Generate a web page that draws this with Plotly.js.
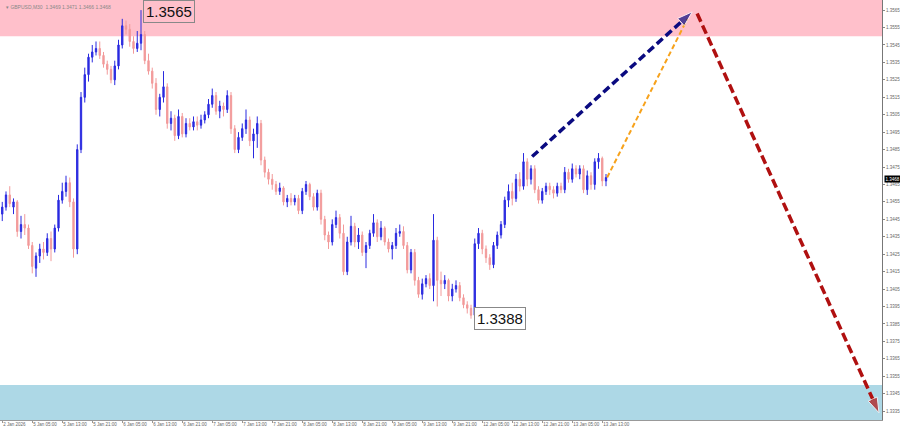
<!DOCTYPE html>
<html>
<head>
<meta charset="utf-8">
<script src="https://cdn.plot.ly/plotly-3.0.1.min.js"></script>
<style>html,body{margin:0;padding:0;background:#fff;}#chart{width:900px;height:431px;}</style>
</head>
<body>
<div id="chart"></div>
<script>
// Hourly approximation of GBPUSD bars (bar index = hour)
const openP = [1.3448,1.3452,1.3459,1.3452,1.3455,1.3438,1.3442,1.3440,1.3430,1.3417,1.3424,1.3428,1.3426,1.3434,1.3428,1.3440,1.3456,1.3461,1.3466,1.3455,
1.3428,1.3485,1.3515,1.3528,1.3538,1.3541,1.3543,1.3539,1.3534,1.3531,1.3525,1.3533,1.3545,1.3556,1.3554,1.3547,1.3543,1.3546,1.3551,1.3536,
1.3530,1.3523,1.3508,1.3515,1.3521,1.3500,1.3503,1.3493,1.3504,1.3494,1.3500,1.3498,1.3501,1.3499,1.3502,1.3505,1.3511,1.3516,1.3507,1.3510,
1.3508,1.3516,1.3497,1.3485,1.3492,1.3497,1.3502,1.3490,1.3494,1.3500,1.3479,1.3472,1.3468,1.3465,1.3461,1.3463,1.3455,1.3457,1.3455,1.3457,
1.3450,1.3461,1.3465,1.3458,1.3452,1.3460,1.3445,1.3436,1.3432,1.3442,1.3446,1.3437,1.3415,1.3432,1.3441,1.3432,1.3436,1.3426,1.3430,1.3437,
1.3443,1.3435,1.3440,1.3432,1.3428,1.3430,1.3437,1.3438,1.3430,1.3416,1.3426,1.3410,1.3402,1.3408,1.3411,1.3407,1.3433,1.3410,1.3408,1.3410,
1.3401,1.3405,1.3407,1.3400,1.3396,1.3394,1.3390,1.3431,1.3437,1.3428,1.3423,1.3419,1.3430,1.3436,1.3442,1.3456,1.3461,1.3457,1.3468,1.3464,
1.3478,1.3468,1.3474,1.3462,1.3456,1.3461,1.3464,1.3462,1.3460,1.3464,1.3462,1.3472,1.3468,1.3474,1.3471,1.3474,1.3462,1.3470,1.3465,1.3478,
1.3480,1.3467];
const highP = [1.3455,1.3461,1.3464,1.3457,1.3456,1.3447,1.3448,1.3442,1.3432,1.3426,1.3431,1.3432,1.3437,1.3438,1.3442,1.3459,1.3466,1.3470,1.3469,1.3457,
1.3488,1.3518,1.3532,1.3540,1.3545,1.3547,1.3547,1.3541,1.3536,1.3533,1.3536,1.3548,1.3560,1.3559,1.3557,1.3550,1.3553,1.3565,1.3553,1.3540,
1.3532,1.3526,1.3517,1.3530,1.3523,1.3507,1.3505,1.3508,1.3506,1.3503,1.3503,1.3504,1.3504,1.3505,1.3507,1.3514,1.3520,1.3518,1.3513,1.3512,
1.3519,1.3518,1.3499,1.3495,1.3500,1.3508,1.3504,1.3497,1.3504,1.3502,1.3481,1.3474,1.3471,1.3467,1.3466,1.3464,1.3459,1.3460,1.3459,1.3459,
1.3463,1.3467,1.3466,1.3460,1.3462,1.3462,1.3447,1.3438,1.3445,1.3450,1.3448,1.3442,1.3435,1.3447,1.3443,1.3440,1.3438,1.3432,1.3439,1.3448,
1.3445,1.3444,1.3441,1.3434,1.3432,1.3440,1.3442,1.3441,1.3432,1.3428,1.3428,1.3412,1.3411,1.3413,1.3414,1.3448,1.3435,1.3415,1.3413,1.3411,
1.3408,1.3410,1.3409,1.3402,1.3398,1.3396,1.3434,1.3440,1.3439,1.3430,1.3425,1.3432,1.3438,1.3444,1.3458,1.3465,1.3466,1.3471,1.3472,1.3483,
1.3480,1.3476,1.3476,1.3464,1.3463,1.3466,1.3466,1.3464,1.3466,1.3466,1.3475,1.3474,1.3477,1.3476,1.3476,1.3476,1.3473,1.3472,1.3480,1.3483,
1.3481,1.3471];
const lowP = [1.3444,1.3450,1.3452,1.3448,1.3435,1.3434,1.3436,1.3428,1.3414,1.3412,1.3420,1.3422,1.3424,1.3421,1.3426,1.3438,1.3454,1.3458,1.3452,1.3423,
1.3425,1.3483,1.3512,1.3524,1.3535,1.3539,1.3537,1.3532,1.3528,1.3523,1.3522,1.3531,1.3543,1.3551,1.3544,1.3540,1.3541,1.3542,1.3534,1.3528,
1.3520,1.3505,1.3504,1.3512,1.3497,1.3496,1.3490,1.3491,1.3492,1.3492,1.3496,1.3496,1.3496,1.3497,1.3500,1.3503,1.3509,1.3505,1.3503,1.3504,
1.3506,1.3494,1.3483,1.3483,1.3490,1.3494,1.3487,1.3480,1.3486,1.3476,1.3469,1.3465,1.3462,1.3459,1.3459,1.3453,1.3452,1.3453,1.3453,1.3448,
1.3448,1.3459,1.3456,1.3450,1.3450,1.3442,1.3433,1.3428,1.3430,1.3440,1.3434,1.3413,1.3413,1.3430,1.3429,1.3428,1.3424,1.3417,1.3428,1.3435,
1.3432,1.3433,1.3430,1.3426,1.3422,1.3428,1.3435,1.3428,1.3414,1.3414,1.3407,1.3400,1.3399,1.3406,1.3405,1.3398,1.3395,1.3401,1.3405,1.3398,
1.3398,1.3403,1.3398,1.3394,1.3391,1.3388,1.3388,1.3428,1.3425,1.3420,1.3416,1.3417,1.3428,1.3434,1.3440,1.3452,1.3453,1.3455,1.3461,1.3462,
1.3464,1.3465,1.3460,1.3454,1.3454,1.3459,1.3459,1.3457,1.3458,1.3460,1.3460,1.3466,1.3466,1.3469,1.3468,1.3460,1.3459,1.3462,1.3462,1.3474,
1.3464,1.3464];
const closeP = [1.3452,1.3459,1.3454,1.3455,1.3438,1.3442,1.3440,1.3430,1.3418,1.3424,1.3428,1.3426,1.3434,1.3428,1.3440,1.3456,1.3461,1.3466,1.3455,1.3428,
1.3485,1.3515,1.3528,1.3538,1.3541,1.3543,1.3539,1.3534,1.3531,1.3525,1.3533,1.3545,1.3556,1.3554,1.3547,1.3543,1.3546,1.3551,1.3536,1.3530,
1.3523,1.3508,1.3515,1.3521,1.3500,1.3503,1.3493,1.3504,1.3494,1.3500,1.3498,1.3501,1.3499,1.3502,1.3505,1.3511,1.3516,1.3507,1.3510,1.3508,
1.3516,1.3497,1.3485,1.3492,1.3497,1.3502,1.3490,1.3494,1.3500,1.3479,1.3472,1.3468,1.3465,1.3461,1.3463,1.3455,1.3457,1.3455,1.3457,1.3450,
1.3461,1.3465,1.3458,1.3452,1.3460,1.3445,1.3436,1.3432,1.3442,1.3446,1.3437,1.3415,1.3432,1.3441,1.3432,1.3436,1.3426,1.3430,1.3437,1.3443,
1.3435,1.3440,1.3432,1.3428,1.3430,1.3437,1.3438,1.3430,1.3416,1.3426,1.3410,1.3402,1.3408,1.3411,1.3407,1.3433,1.3410,1.3408,1.3410,1.3401,
1.3405,1.3407,1.3400,1.3396,1.3394,1.3390,1.3431,1.3437,1.3428,1.3423,1.3419,1.3430,1.3436,1.3442,1.3456,1.3461,1.3457,1.3468,1.3464,1.3478,
1.3468,1.3474,1.3462,1.3456,1.3461,1.3464,1.3462,1.3460,1.3464,1.3462,1.3472,1.3468,1.3474,1.3471,1.3474,1.3462,1.3470,1.3465,1.3478,1.3480,
1.3467,1.3469];
const barIndex = openP.map((_, i) => i);

const timeTickPos = [0,8,16,24,32,40,48,56,64,72,80,88,96,104,112,120,128,136,144,152,160];
const timeTickText = ["2 Jan 2026","5 Jan 05:00","5 Jan 13:00","5 Jan 21:00","6 Jan 05:00","6 Jan 13:00","6 Jan 21:00","7 Jan 05:00","7 Jan 13:00","7 Jan 21:00","8 Jan 05:00","8 Jan 13:00","8 Jan 21:00","9 Jan 05:00","9 Jan 13:00","9 Jan 21:00","12 Jan 05:00","12 Jan 13:00","12 Jan 21:00","13 Jan 05:00","13 Jan 13:00"];
const priceTicks = [1.3335,1.3345,1.3355,1.3365,1.3375,1.3385,1.3395,1.3405,1.3415,1.3425,1.3435,1.3445,1.3455,1.3465,1.3475,1.3485,1.3495,1.3505,1.3515,1.3525,1.3535,1.3545,1.3555,1.3565];

// zones
const resistanceZone = [1.3550, 1.3580];
const supportZone = [1.3320, 1.3350];

// forecast paths
const navyPathX = [141.3, 184.0], navyPathY = [1.3481, 1.3564];
const orangePathX = [161.3, 182.7], orangePathY = [1.3469, 1.3560];
const redPathX = [185.3, 233.8], redPathY = [1.3563, 1.3334];

const header = "\u25BE GBPUSD,M30  1.3469 1.3471 1.3466 1.3468";
const highLabel = {x: 37.6, y: 1.35644, text: "1.3565"};
const lowLabel = {x: 125.9, y: 1.33880, text: "1.3388"};
const lastPrice = 1.3468;

const FONT = 'Liberation Sans, Arial, sans-serif';

const traces = [
  {
    type: 'candlestick', x: barIndex, open: openP, high: highP, low: lowP, close: closeP,
    increasing: {line: {color: '#2a2ae0', width: 1}, fillcolor: '#2a2ae0'},
    decreasing: {line: {color: '#f29a9a', width: 1}, fillcolor: '#f29a9a'},
    whiskerwidth: 0, showlegend: false, hoverinfo: 'skip'
  },
  {
    type: 'scatter', mode: 'lines', x: orangePathX, y: orangePathY,
    line: {color: '#f7a21b', width: 2, dash: '5px,3px'}, showlegend: false, hoverinfo: 'skip'
  },
  {
    type: 'scatter', mode: 'lines+markers', x: navyPathX, y: navyPathY,
    line: {color: '#0a0a80', width: 3.5, dash: '8px,4px'},
    marker: {symbol: 'arrow', angleref: 'previous', size: [0, 16], color: '#0a0a80'},
    showlegend: false, hoverinfo: 'skip'
  },
  {
    type: 'scatter', mode: 'lines+markers', x: redPathX, y: redPathY,
    line: {color: '#b01010', width: 3.5, dash: '9px,4px'},
    marker: {symbol: 'arrow', angleref: 'previous', size: [0, 16], color: '#b01010'},
    showlegend: false, hoverinfo: 'skip'
  }
];

const layout = {
  width: 900, height: 431,
  margin: {l: 0, r: 18, t: 0, b: 11},
  paper_bgcolor: '#ffffff', plot_bgcolor: '#ffffff',
  font: {family: FONT, color: '#666'},
  showlegend: false,
  boxgap: 0.5,
  xaxis: {
    range: [-0.6, 234.6], rangeslider: {visible: false},
    tickmode: 'array', tickvals: timeTickPos, ticktext: timeTickText,
    ticklabelposition: 'outside right', tickangle: 0,
    tickfont: {size: 4.5, color: '#666', family: FONT}, ticks: 'outside', ticklen: 2, tickcolor: '#999',
    showline: true, linecolor: '#999', linewidth: 1, showgrid: false, zeroline: false, fixedrange: true
  },
  yaxis: {
    side: 'right', range: [1.33299, 1.35708],
    tickmode: 'array', tickvals: priceTicks, ticktext: priceTicks.map(v => v.toFixed(4)),
    tickfont: {size: 4.5, color: '#666', family: FONT}, ticks: 'outside', ticklen: 2, tickcolor: '#888',
    showline: true, linecolor: '#777', linewidth: 1, showgrid: false, zeroline: false, fixedrange: true
  },
  shapes: [
    {type: 'rect', xref: 'paper', x0: 0, x1: 1, yref: 'y', y0: resistanceZone[0], y1: resistanceZone[1],
     fillcolor: '#ffc0cb', line: {width: 0}, layer: 'below'},
    {type: 'rect', xref: 'paper', x0: 0, x1: 1, yref: 'y', y0: supportZone[0], y1: supportZone[1],
     fillcolor: '#add8e6', line: {width: 0}, layer: 'below'}
  ],
  annotations: [
    {xref: 'paper', yref: 'paper', x: 0.004, y: 0.995, xanchor: 'left', yanchor: 'top', showarrow: false,
     text: header, font: {size: 5, color: '#888', family: FONT}},
    {x: highLabel.x, y: highLabel.y, xanchor: 'left', yanchor: 'middle', showarrow: false,
     text: highLabel.text, font: {size: 15, color: '#111', family: FONT},
     bordercolor: '#888', borderwidth: 1, borderpad: 2, bgcolor: 'rgba(255,192,203,0)'},
    {x: lowLabel.x, y: lowLabel.y, xanchor: 'left', yanchor: 'middle', showarrow: false,
     text: lowLabel.text, font: {size: 15, color: '#111', family: FONT},
     bordercolor: '#888', borderwidth: 1, borderpad: 2, bgcolor: '#ffffff'},
    {xref: 'paper', x: 1.002, y: lastPrice, yref: 'y', xanchor: 'left', yanchor: 'middle', showarrow: false,
     text: lastPrice.toFixed(4), font: {size: 4.5, color: '#ffffff', family: FONT}, bgcolor: '#000000', borderpad: 0.5}
  ]
};

Plotly.newPlot('chart', traces, layout, {displayModeBar: false, staticPlot: true});
</script>
</body>
</html>
